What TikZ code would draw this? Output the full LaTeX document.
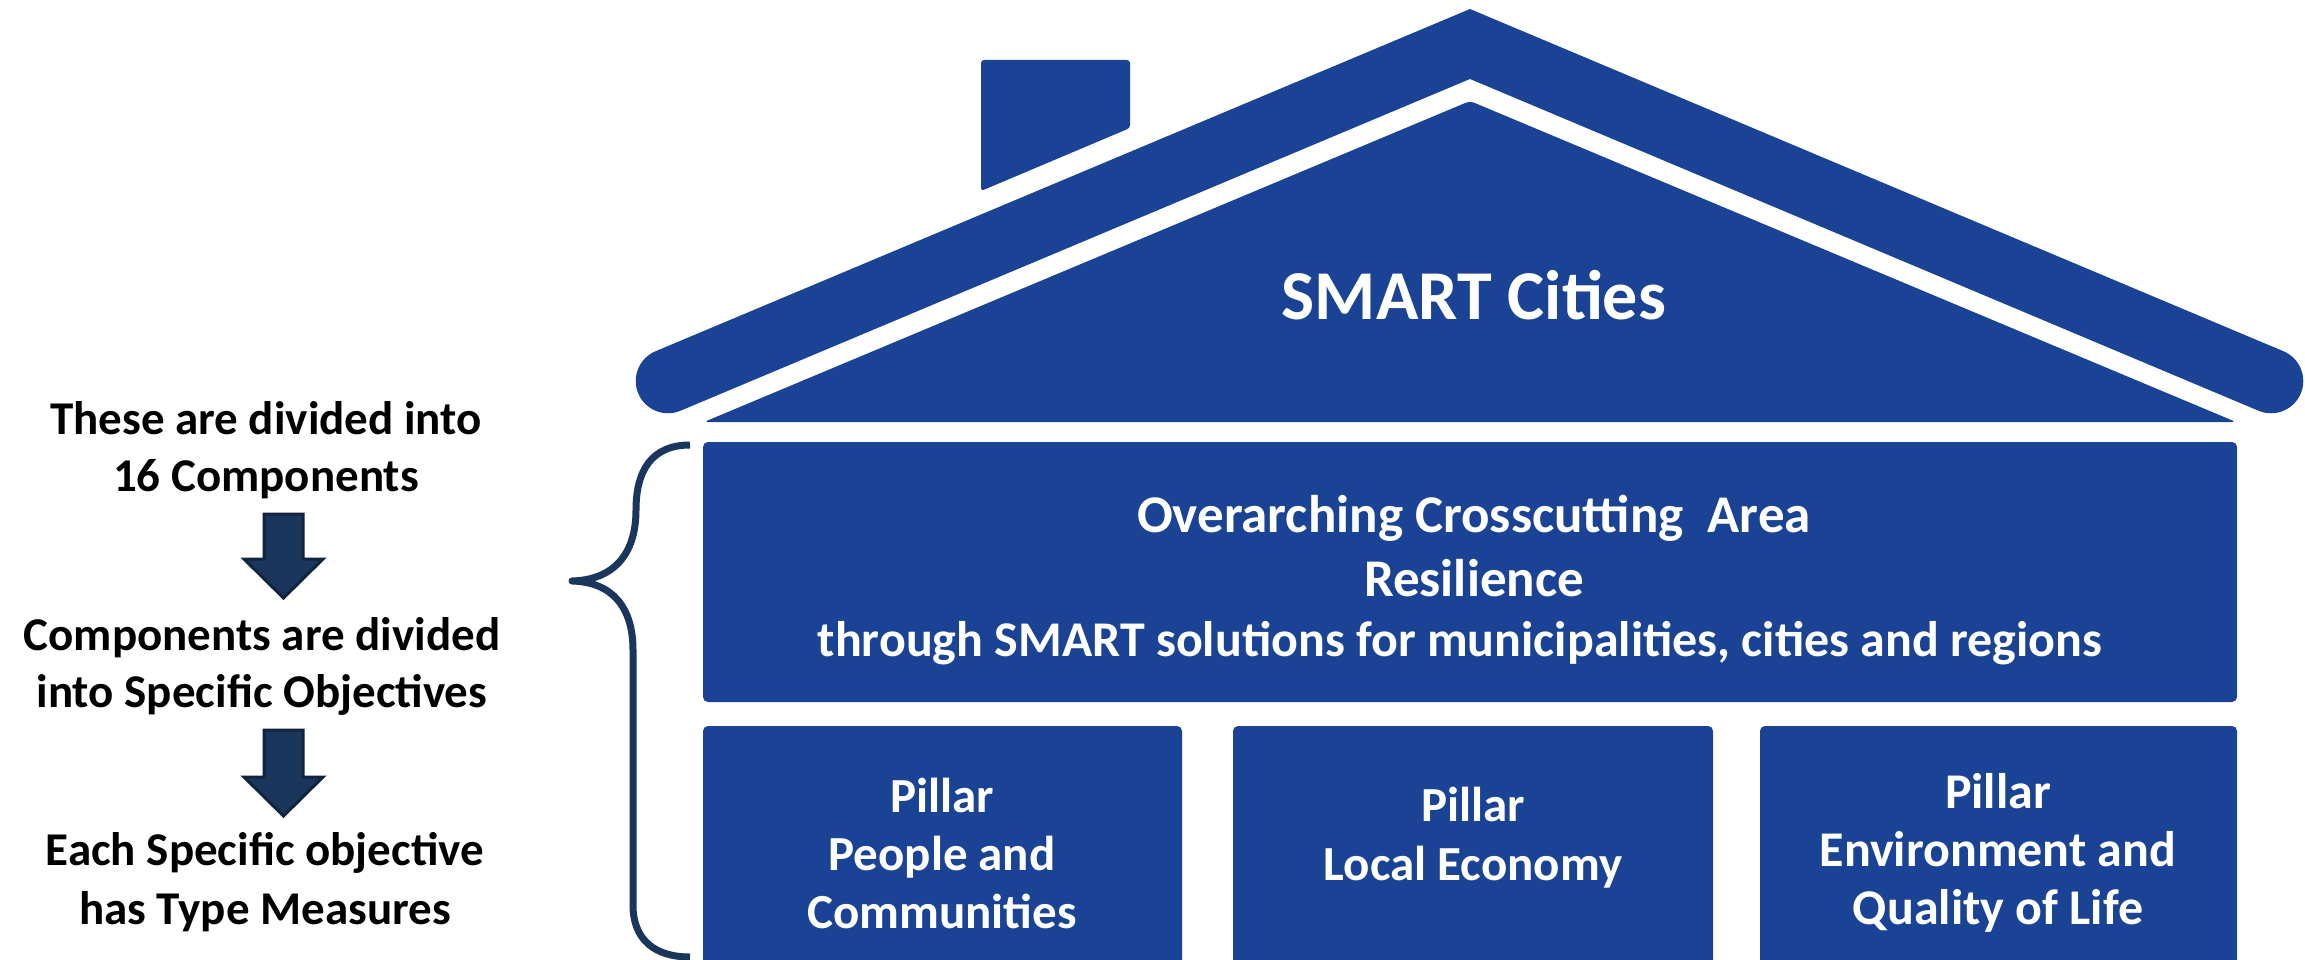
\documentclass[tikz,border=0pt]{standalone}
\usepackage{fontspec}
\setmainfont{Carlito}
\definecolor{houseblue}{RGB}{26,67,150}
\definecolor{navyfill}{RGB}{27,54,93}
\definecolor{navyedge}{RGB}{16,36,64}
\begin{document}
\begin{tikzpicture}[x=1pt,y=-1pt,
  housepart/.style={fill=houseblue},
  boxpart/.style={fill=houseblue, rounded corners=5pt},
  whitetext/.style={text=white, font=\bfseries, align=center, anchor=base, inner sep=0pt},
  blacktext/.style={text=black, font=\bfseries, align=center, anchor=base, inner sep=0pt},
  downarrow/.style={fill=navyfill, draw=navyedge, line width=3pt, line join=miter},
  bracestyle/.style={draw=navyfill, line width=7pt, line join=round}]
\clip (0,0) rectangle (2305,960);
\fill[white] (0,0) rectangle (2305,960);
% roof band
\draw[houseblue, line width=64.5pt, line join=miter, line cap=round] (668,381) -- (1470,44) -- (2271,381);
% gable triangle
\fill[housepart, rounded corners=4pt] (1470,101) -- (2236,422) -- (704,422) -- cycle;
% chimney
\fill[housepart, rounded corners=3pt] (981,60) -- (1130,60) -- (1130,128) -- (981,191) -- cycle;
% boxes
\fill[boxpart] (703,442) rectangle (2237,702);
\fill[boxpart] (703,726) rectangle (1182,990);
\fill[boxpart] (1233,726) rectangle (1713,990);
\fill[boxpart] (1760,726) rectangle (2237,990);
% texts
\node[whitetext, font=\bfseries\fontsize{70}{80}\selectfont] (title) at (1474,319) {SMART Cities};
\node[whitetext, font=\bfseries\fontsize{53}{64}\selectfont] (over) at (1474,596) {Overarching Crosscutting~~Area\\Resilience};
\node[whitetext, font=\bfseries\fontsize{50}{56}\selectfont] (overc) at (1460,656) {through SMART solutions for municipalities, cities and regions};
\node[whitetext, font=\bfseries\fontsize{49}{58}\selectfont] (p1) at (942,928) {Pillar\\People and\\Communities};
\node[whitetext, font=\bfseries\fontsize{49}{59}\selectfont] (p2) at (1473,880) {Pillar\\Local Economy};
\node[whitetext, font=\bfseries\fontsize{50}{58}\selectfont] (p3) at (1998,924) {Pillar\\Environment and\\Quality of Life};
\node[blacktext, font=\bfseries\fontsize{47}{57}\selectfont] (t1) at (266,491) {These are divided into\\16 Components};
\node[blacktext, font=\bfseries\fontsize{47}{57}\selectfont] (t2) at (262,707) {Components are divided\\into Specific Objectives};
\node[blacktext, font=\bfseries\fontsize{47}{59}\selectfont] (t3) at (265,924) {Each Specific objective\\has Type Measures};
% block arrows
\draw[downarrow] (264,514) -- (303,514) -- (303,559) -- (323,559) -- (283.5,598) -- (244,559) -- (264,559) -- cycle;
\draw[downarrow] (264,730) -- (303,730) -- (303,777) -- (323,777) -- (283.5,816) -- (244,777) -- (264,777) -- cycle;
% brace
\draw[bracestyle] (690,445) .. controls (652,445) and (636,470) .. (636,510)
  .. controls (636,556) and (612,580) .. (572,581)
  .. controls (612,582) and (633,607) .. (633,650) -- (633,905)
  .. controls (633,940) and (655,957) .. (690,957);
\end{tikzpicture}
\end{document}
